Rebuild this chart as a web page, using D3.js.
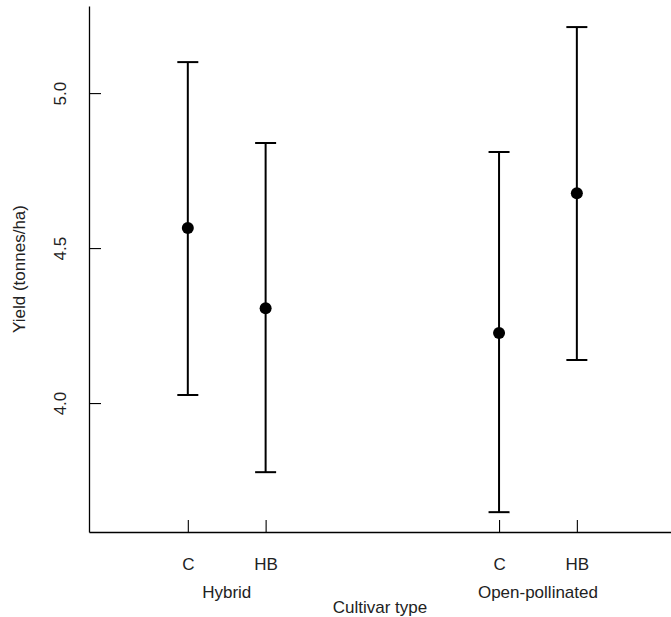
<!DOCTYPE html>
<html>
<head>
<meta charset="utf-8">
<script src="https://cdn.jsdelivr.net/npm/d3@7"></script>
<style>
html,body{margin:0;padding:0;background:#fff;}
text{font-family:"Liberation Sans",Arial,sans-serif;fill:#222;}
</style>
</head>
<body>
<svg id="chart" width="671" height="617"></svg>
<script>
// Data
const groups = ["Hybrid", "Hybrid", "Open-pollinated", "Open-pollinated"];
const treatments = ["C", "HB", "C", "HB"];
const positions = [1, 2, 5, 6];
const means = [4.565, 4.306, 4.226, 4.677];
const lower = [4.026, 3.777, 3.648, 4.139];
const upper = [5.100, 4.839, 4.810, 5.213];
const yTicks = [4.0, 4.5, 5.0];
const groupNames = ["Hybrid", "Open-pollinated"];
const groupCenters = [1.5, 5.5];

(function(){
const svg = d3.select("#chart");
const mLeft = 89, mRight = 671, mTop = 6, mBottom = 532;
const fs = 17;

const x = d3.scaleLinear().domain([-0.27, 7.21]).range([mLeft, mRight]);
const y = d3.scaleLinear().domain([3.584, 5.281]).range([mBottom, mTop]);

// Y axis
const yAxis = d3.axisLeft(y).tickValues(yTicks).tickFormat(d3.format(".1f"))
  .tickSizeInner(-12).tickSizeOuter(0);
const gy = svg.append("g").attr("transform", `translate(${mLeft},0)`).call(yAxis);
gy.select(".domain").attr("stroke", "#000").attr("stroke-width", 1.3);
gy.selectAll(".tick line").attr("stroke", "#000").attr("stroke-width", 1.1);
gy.selectAll(".tick text")
  .attr("font-size", fs).attr("fill", "#222")
  .attr("text-anchor", "middle")
  .attr("x", 0).attr("y", 0).attr("dy", "0.35em")
  .attr("transform", "translate(-29,0) rotate(-90)");

// X axis
const xAxis = d3.axisBottom(x).tickValues(positions).tickFormat((d,i) => treatments[i])
  .tickSizeInner(-12).tickSizeOuter(0).tickPadding(26);
const gx = svg.append("g").attr("transform", `translate(0,${mBottom})`).call(xAxis);
gx.select(".domain").attr("stroke", "#000").attr("stroke-width", 1.3);
gx.selectAll(".tick line").attr("stroke", "#000").attr("stroke-width", 1.1);
gx.selectAll(".tick text").attr("font-size", fs).attr("fill", "#222");

// Group labels
svg.selectAll(".glabel").data(groupNames).join("text")
  .attr("class", "glabel")
  .attr("x", (d,i) => x(groupCenters[i]))
  .attr("y", 598)
  .attr("text-anchor", "middle")
  .attr("font-size", fs)
  .text(d => d);

// Axis titles
svg.append("text").attr("x", (mLeft + mRight) / 2).attr("y", 613)
  .attr("text-anchor", "middle").attr("font-size", fs).text("Cultivar type");
svg.append("text")
  .attr("transform", `translate(25,${(mTop + mBottom) / 2}) rotate(-90)`)
  .attr("text-anchor", "middle").attr("font-size", fs).text("Yield (tonnes/ha)");

// Error bars
const capW = 10.5;
const bars = svg.append("g");
positions.forEach((p, i) => {
  bars.append("line").attr("x1", x(p)).attr("x2", x(p))
    .attr("y1", y(lower[i])).attr("y2", y(upper[i]))
    .attr("stroke", "#000").attr("stroke-width", 2);
  bars.append("line").attr("x1", x(p) - capW).attr("x2", x(p) + capW)
    .attr("y1", y(upper[i])).attr("y2", y(upper[i]))
    .attr("stroke", "#000").attr("stroke-width", 2);
  bars.append("line").attr("x1", x(p) - capW).attr("x2", x(p) + capW)
    .attr("y1", y(lower[i])).attr("y2", y(lower[i]))
    .attr("stroke", "#000").attr("stroke-width", 2);
});
svg.append("g").selectAll("circle").data(means).join("circle")
  .attr("cx", (d,i) => x(positions[i]))
  .attr("cy", d => y(d))
  .attr("r", 6)
  .attr("fill", "#000");
})();
</script>
</body>
</html>
